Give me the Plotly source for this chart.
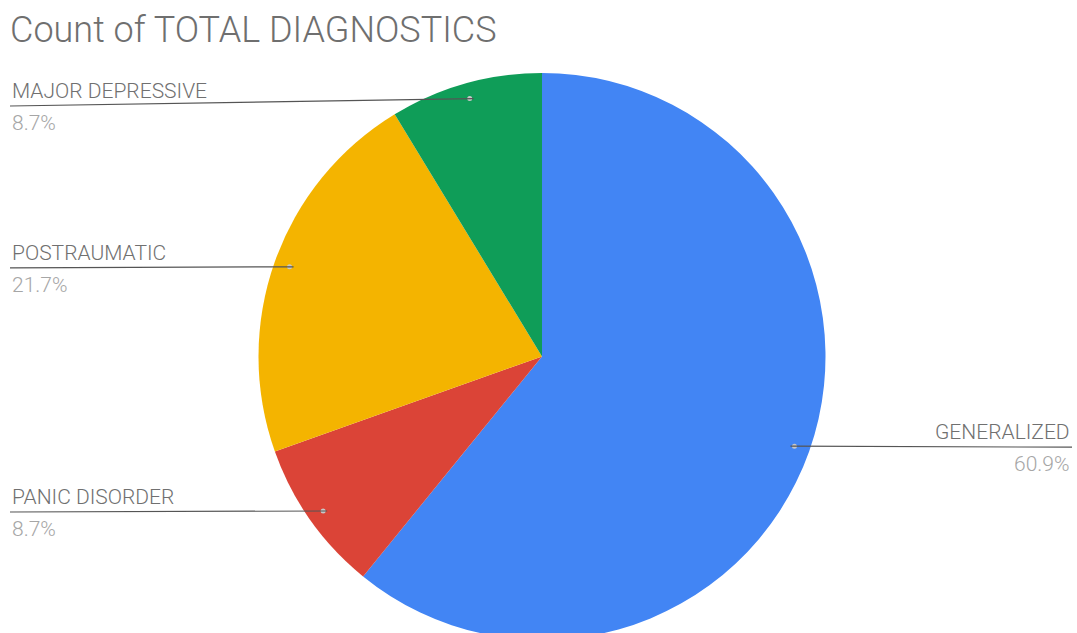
import math
import plotly.graph_objects as go

categories = ["GENERALIZED", "PANIC DISORDER", "POSTRAUMATIC", "MAJOR DEPRESSIVE"]
values = [14, 2, 5, 2]
colors = ["#4285F4", "#DB4437", "#F4B400", "#0F9D58"]
title_text = "Count of TOTAL DIAGNOSTICS"

W, H = 1077, 633
FIG_H = 640           # pie slightly overflows the visible window, as in the reference
CX, TOP = 542, 73
R = (FIG_H - TOP) / 2
CY = TOP + R

FONT = "Roboto, Arial, sans-serif"

fig = go.Figure()
fig.add_trace(go.Pie(
    labels=categories, values=values, sort=False, direction="clockwise", rotation=0,
    marker=dict(colors=colors, line=dict(width=0)),
    textinfo="none", hoverinfo="label+value+percent", showlegend=False,
    domain=dict(x=[(CX - R) / W, (CX + R) / W], y=[0, 1 - TOP / FIG_H]),
))

def px(x):
    return x / W

def py(y):
    return 1 - y / FIG_H

total = sum(values)
cum = 0
shapes = []
annotations = []
for cat, v in zip(categories, values):
    mid = (cum + v / 2) / total * 2 * math.pi
    cum += v
    dx = math.sin(mid) * R * 0.945
    dy = -math.cos(mid) * R * 0.945
    x0, y0 = CX + dx, CY + dy
    pct = f"{v / total * 100:.1f}%"
    right = dx > 0
    ly = max(y0 + 1, 106)
    lx = W - 5 if right else 10
    shapes.append(dict(type="circle", xref="paper", yref="paper",
                       x0=px(x0 - 2.5), x1=px(x0 + 2.5), y0=py(y0 - 2.5), y1=py(y0 + 2.5),
                       fillcolor="#c8c8c8", line=dict(width=0)))
    shapes.append(dict(type="line", xref="paper", yref="paper",
                       x0=px(lx), x1=px(x0 + (-4 if right else 4)), y0=py(ly), y1=py(y0),
                       line=dict(color="#555555", width=1.2)))
    annotations.append(dict(x=px(lx), y=py(ly - 1), xref="paper", yref="paper",
                            text=cat, showarrow=False, xanchor="right" if right else "left",
                            yanchor="bottom",
                            font=dict(family=FONT, size=21, color="#707070", weight=300)))
    annotations.append(dict(x=px(lx), y=py(ly + 3), xref="paper", yref="paper",
                            text=pct, showarrow=False, xanchor="right" if right else "left",
                            yanchor="top",
                            font=dict(family=FONT, size=21, color="#a6a6a6", weight=300)))

annotations.append(dict(x=px(8), y=py(53), xref="paper", yref="paper", text=title_text,
                        showarrow=False, xanchor="left", yanchor="bottom",
                        font=dict(family=FONT, size=36, color="#6f6f6f", weight=300)))

fig.update_layout(width=W, height=FIG_H, margin=dict(l=0, r=0, t=0, b=0),
                  paper_bgcolor="white", plot_bgcolor="white",
                  shapes=shapes, annotations=annotations)
fig.write_html("out.html",
               post_script="document.documentElement.style.overflow='hidden';"
                           "document.body.style.overflow='hidden';")
